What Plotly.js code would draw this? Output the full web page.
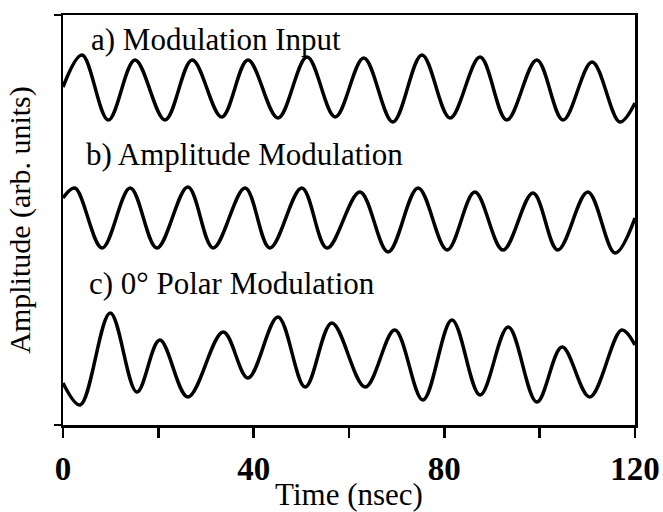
<!DOCTYPE html>
<html>
<head>
<meta charset="utf-8">
<script src="https://cdn.plot.ly/plotly-3.0.1.min.js"></script>
<style>html,body{margin:0;padding:0;background:#fff;}#chart{width:663px;height:512px;}</style>
</head>
<body>
<div id="chart"></div>
<script>
// Time samples (nsec) at turning points of each trace
const timeA = [0, 4.0, 9.5, 15.1, 21.4, 27.1, 33.3, 38.8, 45.1, 51.2, 57.1, 63.1, 69.2, 75.3, 81.2, 87.5, 93.1, 99.4, 104.9, 111.0, 116.8, 120];
const ampA  = [33.8, 37.0, 30.5, 36.5, 30.5, 36.5, 30.8, 36.5, 30.7, 36.8, 30.8, 36.7, 30.3, 37.0, 30.7, 36.8, 30.5, 36.5, 30.5, 36.3, 30.3, 32.2];

const timeB = [0, 2.5, 8.2, 14.1, 19.7, 26.2, 31.5, 38.2, 43.4, 50.1, 55.4, 62.3, 68.2, 74.5, 80.6, 86.4, 92.3, 98.6, 103.8, 110.1, 115.8, 120];
const ampB  = [22.7, 23.7, 17.7, 23.7, 17.7, 23.8, 17.7, 23.7, 17.7, 23.7, 17.7, 23.3, 17.3, 23.7, 17.5, 23.3, 17.5, 23.2, 17.5, 23.3, 17.2, 20.7];

const timeC = [0, 3.6, 9.9, 15.5, 20.3, 26.2, 33.6, 38.8, 45.1, 50.8, 56.4, 63.4, 69.6, 75.5, 81.6, 87.5, 93.4, 99.4, 104.7, 110.5, 117.2, 120];
const ampC  = [4.2, 2.0, 11.2, 3.3, 8.5, 2.8, 9.3, 4.7, 10.8, 3.8, 10.2, 3.8, 9.5, 2.5, 10.5, 3.0, 9.8, 2.3, 7.8, 2.8, 9.5, 8.0];

const labels = ["a) Modulation Input", "b) Amplitude Modulation", "c) 0° Polar Modulation"];
const labelX = [5.4, 4.5, 5.1];
const labelY = [38.6, 27.1, 14.2];

const xTickVals = [0, 20, 40, 60, 80, 100, 120];
const xTickText = ["0", "", "40", "", "80", "", "120"];

const FONT = "Liberation Serif";

function trace(x, y) {
  return {x: x, y: y, type: "scatter", mode: "lines",
          line: {color: "#000", width: 3.5, shape: "spline", smoothing: 1},
          hoverinfo: "skip", showlegend: false};
}

const data = [trace(timeA, ampA), trace(timeB, ampB), trace(timeC, ampC)];

const annotations = labels.map((t, i) => ({
  x: labelX[i], y: labelY[i], xref: "x", yref: "y", text: t, showarrow: false,
  xanchor: "left", yanchor: "middle", font: {family: FONT, size: 31, color: "#000"}
}));

const layout = {
  width: 663, height: 512,
  margin: {l: 63, r: 28, t: 15, b: 87, pad: 0},
  paper_bgcolor: "#fff", plot_bgcolor: "#fff",
  showlegend: false,
  font: {family: FONT, size: 30, color: "#000"},
  xaxis: {
    range: [0, 120], tickmode: "array", tickvals: xTickVals, ticktext: xTickText,
    ticks: "outside", ticklen: 10, tickwidth: 2.5, tickcolor: "#000",
    showline: true, linecolor: "#000", linewidth: 2.5, mirror: true,
    showgrid: false, zeroline: false,
    tickfont: {family: FONT, size: 33, color: "#000", weight: "bold"},
    ticklabelstandoff: 3,
    title: {text: "Time (nsec)", font: {family: FONT, size: 31, color: "#000"}, standoff: 0}
  },
  yaxis: {
    range: [0, 41], tickmode: "array", tickvals: [0, 41], ticktext: ["", ""],
    ticks: "outside", ticklen: 7, tickwidth: 1.5, tickcolor: "#000",
    showline: true, linecolor: "#000", linewidth: 2.5, mirror: true,
    showgrid: false, zeroline: false,
    title: {text: "Amplitude (arb. units)", font: {family: FONT, size: 30, color: "#000"}, standoff: 8}
  },
  annotations: annotations
};

Plotly.newPlot("chart", data, layout, {staticPlot: true, displayModeBar: false});
</script>
</body>
</html>
